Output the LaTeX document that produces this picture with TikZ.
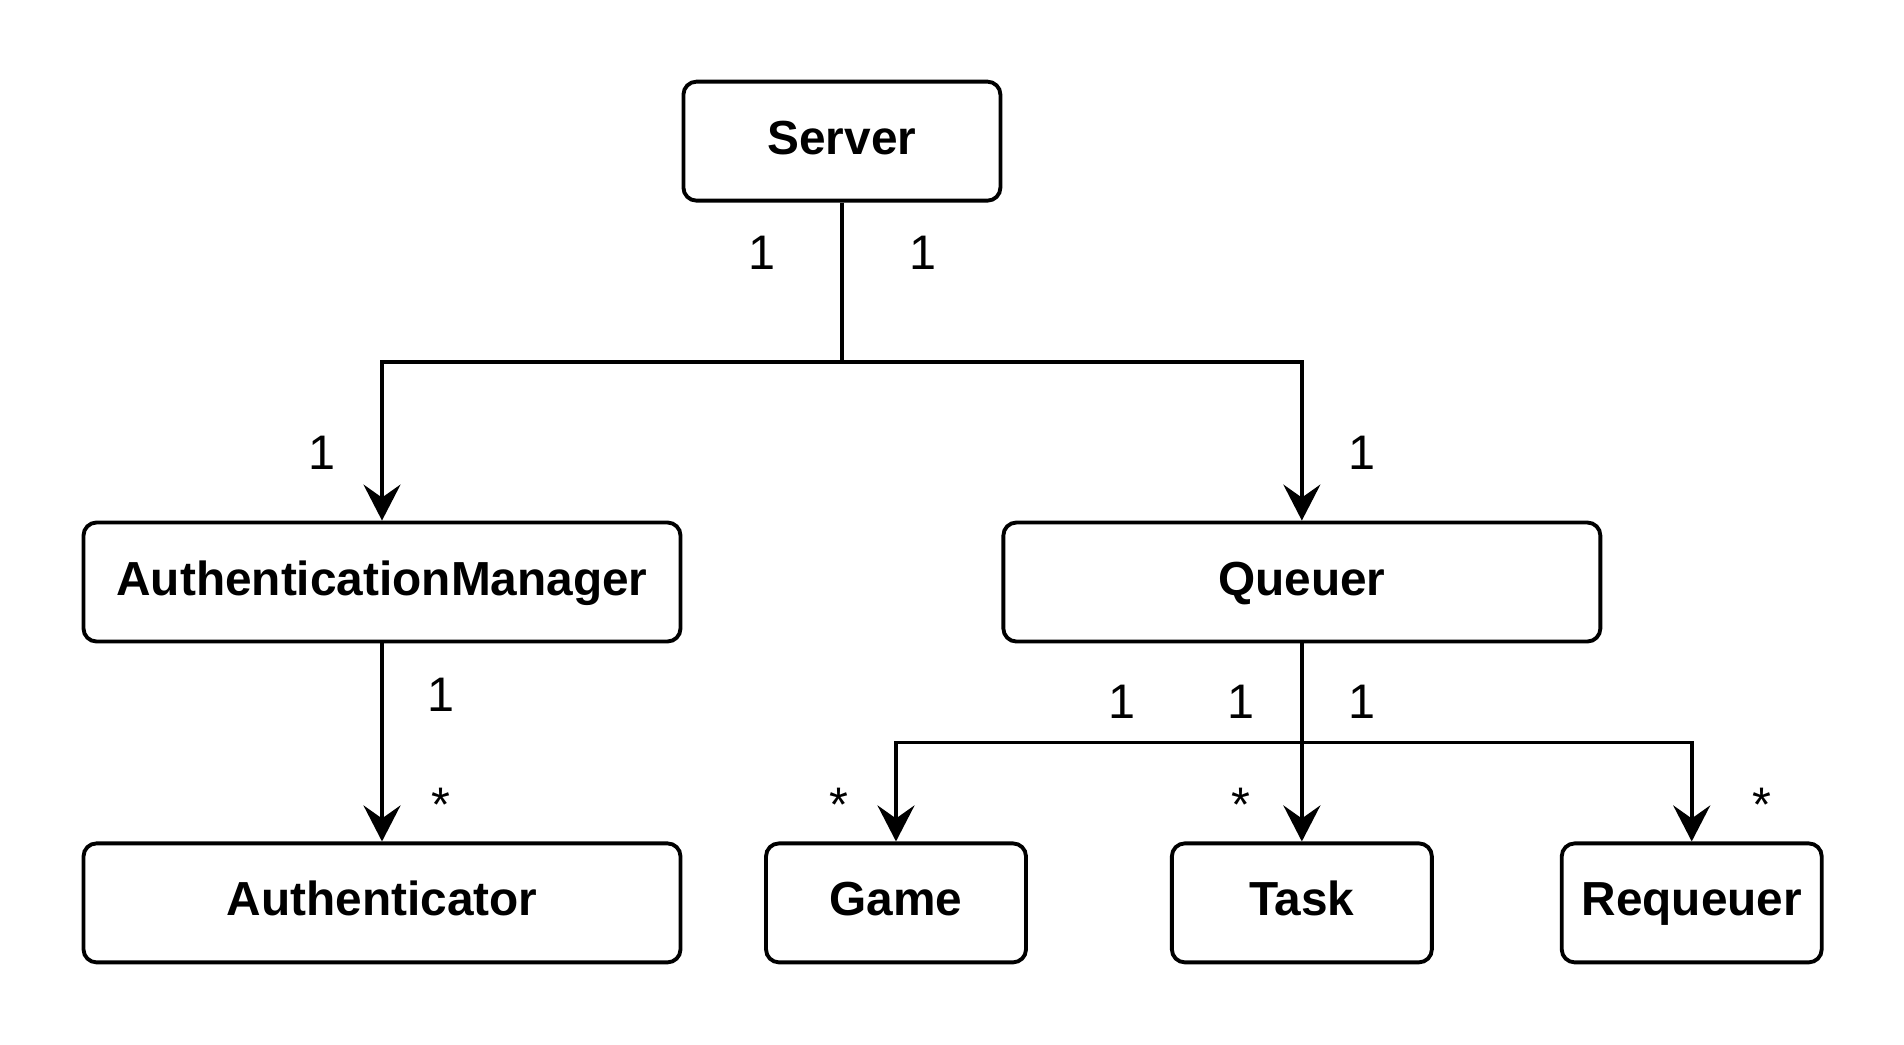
\documentclass[tikz,border=0pt]{standalone}
\usepackage{fontspec}
\setmainfont{Liberation Sans}
\usetikzlibrary{arrows.meta,positioning,calc}
\tikzset{
  clase/.style={rectangle, draw=black, line width=1.1pt, rounded corners=0.13cm,
                minimum height=1.19cm, align=center, inner sep=0pt,
                text height=0.82em, text depth=0.08em,
                font=\fontsize{13.6}{16}\selectfont\bfseries},
  mult/.style={inner sep=0pt, font=\fontsize{13.8}{16}\selectfont},
  flecha/.style={-{Stealth[length=3.6mm, width=3.7mm, inset=1.3mm]}, line width=1.1pt}
}

\begin{document}
\begin{tikzpicture}
  \useasboundingbox (0,0) rectangle (19.04,-10.44);
  \node[clase, minimum width=5.97cm] (am) at (3.82,-5.82) {AuthenticationManager};
  \node[clase, minimum width=5.97cm, right=3.19cm of am] (queuer) {Queuer};
  \node[clase, minimum width=3.17cm, above=3.18cm of $(am.north)!0.5!(queuer.north)$] (server) {Server};
  \node[clase, minimum width=5.97cm, below=1.98cm of am] (auth) {Authenticator};
  \node[clase, minimum width=2.6cm, below=1.98cm of queuer] (task) {Task};
  \node[clase, minimum width=2.6cm, left=1.42cm of task] (game) {Game};
  \node[clase, minimum width=2.6cm, right=1.26cm of task] (requeuer) {Requeuer};
  % asociaciones
  \draw[flecha] (server.south) -- ++(0,-1.59) -| (am.north);
  \draw[flecha] (server.south) -- ++(0,-1.59) -| (queuer.north);
  \draw[flecha] (am) -- (auth);
  \draw[flecha] (queuer.south) -- ++(0,-0.99) -| (game.north);
  \draw[flecha] (queuer) -- (task);
  \draw[flecha] (queuer.south) -- ++(0,-0.99) -| (requeuer.north);
  % multiplicidades
  \node[mult] (ms1) at ($(server.south)+(-0.80,-0.50)$) {1};
  \node[mult] (ms2) at ($(server.south)+(0.81,-0.50)$) {1};
  \node[mult] (mam) at ($(am.north)+(-0.60,0.68)$) {1};
  \node[mult] (mq) at ($(queuer.north)+(0.60,0.68)$) {1};
  \node[mult] (mam2) at ($(am.south)+(0.59,-0.51)$) {1};
  \node[mult] (mau) at ($(auth.north)+(0.59,0.37)$) {*};
  \node[mult] (mq1) at ($(queuer.south)+(-1.80,-0.58)$) {1};
  \node[mult] (mq2) at ($(queuer.south)+(-0.61,-0.58)$) {1};
  \node[mult] (mq3) at ($(queuer.south)+(0.60,-0.58)$) {1};
  \node[mult] (mg) at ($(game.north)+(-0.57,0.37)$) {*};
  \node[mult] (mt) at ($(task.north)+(-0.61,0.37)$) {*};
  \node[mult] (mr) at ($(requeuer.north)+(0.70,0.37)$) {*};
\end{tikzpicture}
\end{document}
